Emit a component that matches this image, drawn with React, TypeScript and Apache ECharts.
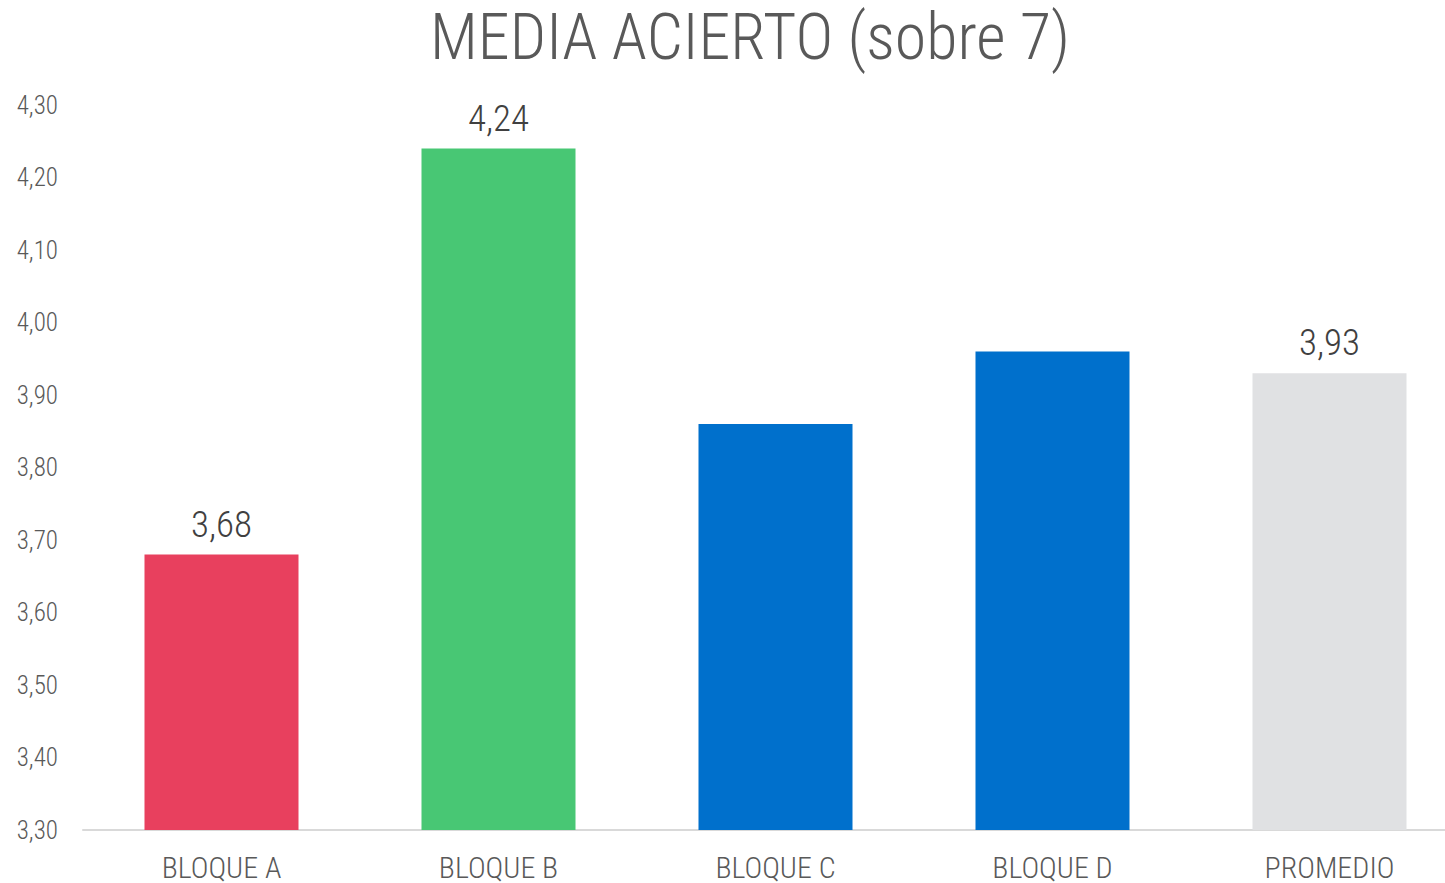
import React, { useEffect, useRef } from "react";
import * as echarts from "echarts";

const categories = ["BLOQUE A", "BLOQUE B", "BLOQUE C", "BLOQUE D", "PROMEDIO"];
const values = [3.68, 4.24, 3.86, 3.96, 3.93];
const barColors = ["#E8405E", "#48C774", "#0070CC", "#0070CC", "#E0E1E3"];
const showLabel = [true, true, false, false, true];
const titleText = "MEDIA ACIERTO (sobre 7)";

const FONT = '"Liberation Sans Narrow", "Arial Narrow", "Roboto Condensed", "Liberation Sans", sans-serif';

export default function App() {
  const ref = useRef<HTMLDivElement>(null);
  useEffect(() => {
    const chart = echarts.init(ref.current!, null, { renderer: "svg" });
    chart.setOption({
      animation: false,
      backgroundColor: "#ffffff",
      textStyle: { fontFamily: FONT },
      title: {
        text: titleText,
        left: 745,
        textAlign: "center",
        top: 0,
        textStyle: { fontFamily: FONT, fontSize: 64, fontWeight: 300, color: "#595959" },
      },
      grid: { left: 83, right: 0, top: 105, bottom: 53 },
      xAxis: {
        type: "category",
        data: categories,
        axisLine: { lineStyle: { color: "#D9D9D9", width: 2 } },
        axisTick: { show: false },
        axisLabel: {
          color: "#595959",
          fontSize: 30,
          lineHeight: 30,
          fontWeight: 300,
          margin: 22,
          fontFamily: FONT,
        },
      },
      yAxis: {
        type: "value",
        min: 3.3,
        max: 4.3,
        interval: 0.1,
        splitLine: { show: false },
        axisLine: { show: false },
        axisTick: { show: false },
        axisLabel: {
          color: "#595959",
          fontSize: 25,
          fontWeight: 300,
          margin: 25,
          fontFamily: FONT,
          formatter: (v: number) => v.toFixed(2).replace(".", ","),
        },
      },
      series: [
        {
          type: "bar",
          barWidth: "55.6%",
          data: values.map((v, i) => ({
            value: v,
            itemStyle: { color: barColors[i] },
            label: {
              show: showLabel[i],
              position: "top",
              distance: 12,
              color: "#404040",
              fontSize: 37,
              fontWeight: 300,
              fontFamily: FONT,
              formatter: (p: any) => Number(p.value).toFixed(2).replace(".", ","),
            },
          })),
        },
      ],
    });
    return () => chart.dispose();
  }, []);
  return (
    <div style={{ position: "fixed", left: 0, top: 0, width: 1445, height: 883, overflow: "hidden", background: "#fff" }}>
      <div ref={ref} style={{ width: 1468, height: 883 }} />
    </div>
  );
}
